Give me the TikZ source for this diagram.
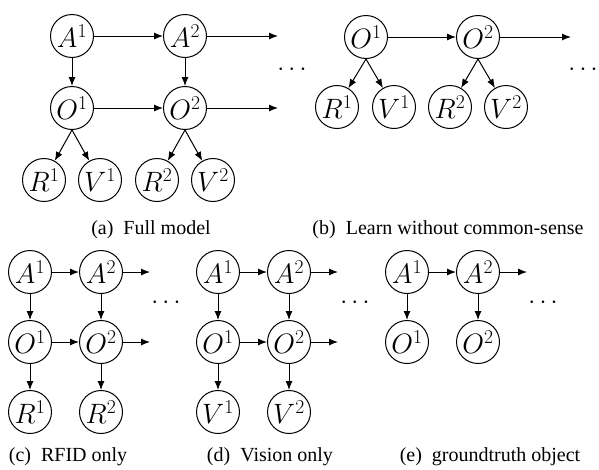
\RequirePackage{fix-cm}
\documentclass[tikz,border=0pt]{standalone}
\usepackage{fontspec}
\setmainfont{Liberation Serif}
\usetikzlibrary{arrows.meta}
\tikzset{
  var/.style={circle,draw,line width=1pt,minimum size=43pt,inner sep=0pt,font=\fontsize{28}{32}\selectfont},
  edge/.style={-{Latex[length=9pt,width=7pt]},line width=1pt},
  capt/.style={font=\fontsize{20}{24}\selectfont,anchor=base,inner sep=0pt},
  dotsnode/.style={font=\fontsize{25}{30}\selectfont,inner sep=0pt}
}
\begin{document}
\begin{tikzpicture}[x=1pt,y=-1pt]
\useasboundingbox[fill=white] (0,0) rectangle (599,469);
% (a) Full model
\node[var] (aA1) at (72,36) {$A^1$};
\node[var] (aA2) at (185,36) {$A^2$};
\node[var] (aO1) at (72,108) {$O^1$};
\node[var] (aO2) at (185,108) {$O^2$};
\node[var] (aR1) at (44,180) {$R^1$};
\node[var] (aV1) at (100,180) {$V^1$};
\node[var] (aR2) at (157,180) {$R^2$};
\node[var] (aV2) at (213,180) {$V^2$};
\coordinate (aAout) at (278,36);
\coordinate (aOout) at (278,108);
\draw[edge] (aA1) -- (aA2);
\draw[edge] (aO1) -- (aO2);
\draw[edge] (aA2) -- (aAout);
\draw[edge] (aO2) -- (aOout);
\draw[edge] (aA1) -- (aO1);
\draw[edge] (aA2) -- (aO2);
\draw[edge] (aO1.south) -- (aR1);
\draw[edge] (aO1.south) -- (aV1);
\draw[edge] (aO2.south) -- (aR2);
\draw[edge] (aO2.south) -- (aV2);
\node[dotsnode] (adots) at (292,69.5) {$\cdots$};
\node[capt] (acap) at (151,234) {(a)\ \ Full model};
% (b) Learn without common-sense
\node[var] (bO1) at (366,37) {$O^1$};
\node[var] (bO2) at (478,37) {$O^2$};
\node[var] (bR1) at (337,107) {$R^1$};
\node[var] (bV1) at (394,107) {$V^1$};
\node[var] (bR2) at (450,107) {$R^2$};
\node[var] (bV2) at (506,107) {$V^2$};
\coordinate (bOout) at (571,37);
\draw[edge] (bO1) -- (bO2);
\draw[edge] (bO2) -- (bOout);
\draw[edge] (bO1.south) -- (bR1);
\draw[edge] (bO1.south) -- (bV1);
\draw[edge] (bO2.south) -- (bR2);
\draw[edge] (bO2.south) -- (bV2);
\node[dotsnode] (bdots) at (583,69.5) {$\cdots$};
\node[capt] (bcap) at (448,234) {(b)\ \ Learn without common-sense};
% (c) RFID only
\node[var] (cA1) at (30,272) {$A^1$};
\node[var] (cA2) at (101,272) {$A^2$};
\node[var] (cO1) at (30,342) {$O^1$};
\node[var] (cO2) at (101,342) {$O^2$};
\node[var] (cR1) at (30,412) {$R^1$};
\node[var] (cR2) at (101,412) {$R^2$};
\coordinate (cAout) at (150,272);
\coordinate (cOout) at (150,342);
\draw[edge] (cA1) -- (cA2);
\draw[edge] (cO1) -- (cO2);
\draw[edge] (cA2) -- (cAout);
\draw[edge] (cO2) -- (cOout);
\draw[edge] (cA1) -- (cO1);
\draw[edge] (cA2) -- (cO2);
\draw[edge] (cO1) -- (cR1);
\draw[edge] (cO2) -- (cR2);
\node[dotsnode] (cdots) at (166,302.5) {$\cdots$};
\node[capt] (ccap) at (68,461) {(c)\ \ RFID only};
% (d) Vision only
\node[var] (dA1) at (218,272) {$A^1$};
\node[var] (dA2) at (289,272) {$A^2$};
\node[var] (dO1) at (218,342) {$O^1$};
\node[var] (dO2) at (289,342) {$O^2$};
\node[var] (dV1) at (218,412) {$V^1$};
\node[var] (dV2) at (289,412) {$V^2$};
\coordinate (dAout) at (338,272);
\coordinate (dOout) at (338,342);
\draw[edge] (dA1) -- (dA2);
\draw[edge] (dO1) -- (dO2);
\draw[edge] (dA2) -- (dAout);
\draw[edge] (dO2) -- (dOout);
\draw[edge] (dA1) -- (dO1);
\draw[edge] (dA2) -- (dO2);
\draw[edge] (dO1) -- (dV1);
\draw[edge] (dO2) -- (dV2);
\node[dotsnode] (ddots) at (355,302.5) {$\cdots$};
\node[capt] (dcap) at (270,461) {(d)\ \ Vision only};
% (e) groundtruth object
\node[var] (eA1) at (407,272) {$A^1$};
\node[var] (eA2) at (478,272) {$A^2$};
\node[var] (eO1) at (407,342) {$O^1$};
\node[var] (eO2) at (478,342) {$O^2$};
\coordinate (eAout) at (527,272);
\draw[edge] (eA1) -- (eA2);
\draw[edge] (eA2) -- (eAout);
\draw[edge] (eA1) -- (eO1);
\draw[edge] (eA2) -- (eO2);
\node[dotsnode] (edots) at (543,302.5) {$\cdots$};
\node[capt] (ecap) at (490,461) {(e)\ \ groundtruth object};
\end{tikzpicture}
\end{document}
